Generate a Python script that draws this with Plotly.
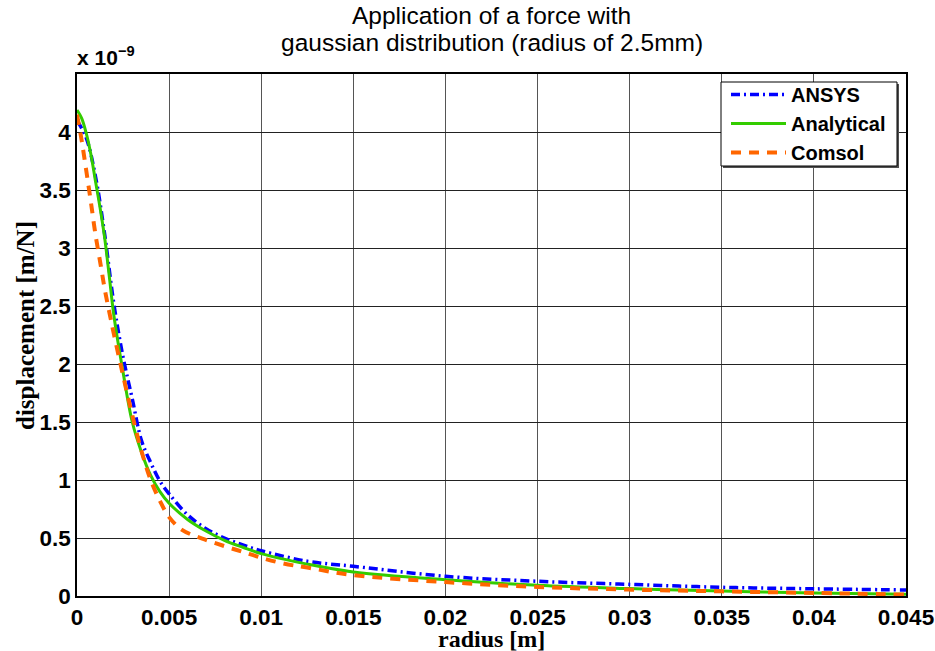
import plotly.graph_objects as go

# radius [m] and displacement [x1e-9 m/N]
r_analytical = [0, 0.00025, 0.0005, 0.00075, 0.001, 0.00125, 0.0015, 0.00175, 0.002, 0.0025, 0.003, 0.0035, 0.004,
                0.0045, 0.005, 0.006, 0.007, 0.008, 0.009, 0.01, 0.0125, 0.015, 0.02, 0.025, 0.03, 0.035, 0.04, 0.045]
d_analytical = [4.19, 4.12, 3.99, 3.81, 3.58, 3.35, 3.09, 2.76, 2.42, 1.93, 1.50, 1.24, 1.04,
                0.90, 0.80, 0.66, 0.56, 0.48, 0.42, 0.365, 0.275, 0.207, 0.14, 0.092, 0.064, 0.043, 0.026, 0.015]

r_ansys = [0, 0.0005, 0.001, 0.0015, 0.002, 0.0025, 0.003, 0.0035, 0.004, 0.0045, 0.005, 0.006, 0.007,
           0.008, 0.009, 0.01, 0.0125, 0.015, 0.02, 0.025, 0.03, 0.035, 0.04, 0.045]
d_ansys = [4.10, 3.95, 3.62, 3.12, 2.52, 2.06, 1.70, 1.34, 1.15, 0.99, 0.88, 0.70, 0.58,
           0.50, 0.44, 0.39, 0.30, 0.256, 0.17, 0.127, 0.10, 0.075, 0.062, 0.052]

r_comsol = [0, 0.00025, 0.0005, 0.00075, 0.001, 0.0013, 0.0015, 0.00175, 0.002, 0.0025, 0.003, 0.0035, 0.004,
            0.0045, 0.005, 0.0057, 0.0068, 0.008, 0.009, 0.01, 0.0112, 0.0125, 0.015, 0.02, 0.025, 0.03,
            0.035, 0.04, 0.045]
d_comsol = [4.15, 3.93, 3.67, 3.40, 3.12, 2.84, 2.65, 2.45, 2.26, 1.90, 1.56, 1.25, 1.00,
            0.82, 0.68, 0.57, 0.495, 0.43, 0.38, 0.33, 0.28, 0.245, 0.18, 0.12, 0.078, 0.055,
            0.04, 0.026, 0.012]

x_ticks = [0, 0.005, 0.01, 0.015, 0.02, 0.025, 0.03, 0.035, 0.04, 0.045]
x_tick_labels = ["0", "0.005", "0.01", "0.015", "0.02", "0.025", "0.03", "0.035", "0.04", "0.045"]
y_ticks = [0, 0.5, 1, 1.5, 2, 2.5, 3, 3.5, 4]
y_tick_labels = ["0", "0.5", "1", "1.5", "2", "2.5", "3", "3.5", "4"]

title_lines = ["Application of a force with", "gaussian distribution (radius of 2.5mm)"]
x_title = "radius [m]"
y_title = "displacement [m/N]"

W, H = 935, 651
PLOT_L, PLOT_R, PLOT_T, PLOT_B = 77, 906, 74, 596
L, R, T, B = PLOT_L, W - PLOT_R, PLOT_T, H - PLOT_B
PH = PLOT_B - PLOT_T
PW = PLOT_R - PLOT_L


def py(pix):
    """window pixel row -> paper y"""
    return (PLOT_B - pix) / PH


def px(pix):
    """window pixel column -> paper x"""
    return (pix - PLOT_L) / PW


SANS = "Liberation Sans, Arial, Helvetica"
SERIF = "Liberation Serif, Times New Roman"

fig = go.Figure()
fig.add_trace(go.Scatter(x=r_ansys, y=d_ansys, mode="lines", name="ANSYS",
                         line=dict(color="#0000ff", width=3.5, dash="9px,4px,2px,4px", shape="spline")))
fig.add_trace(go.Scatter(x=r_analytical, y=d_analytical, mode="lines", name="Analytical",
                         line=dict(color="#33cc00", width=3, shape="spline")))
fig.add_trace(go.Scatter(x=r_comsol, y=d_comsol, mode="lines", name="Comsol",
                         line=dict(color="#ff6600", width=4, dash="10px,8px", shape="spline")))

tick_font = dict(family=SANS, size=22.5, color="black", weight="bold")
fig.update_layout(
    width=W, height=H,
    margin=dict(l=L, r=R, t=T, b=B, autoexpand=False),
    paper_bgcolor="white", plot_bgcolor="white",
    xaxis=dict(range=[0, 0.045], tickvals=x_ticks, ticktext=x_tick_labels, automargin=False,
               showgrid=True, gridcolor="#555555", gridwidth=1,
               showline=True, linecolor="black", linewidth=1.5, mirror=True,
               zeroline=False, tickfont=tick_font, ticks="", ticklabelstandoff=0),
    yaxis=dict(range=[0, 4.5], tickvals=y_ticks, ticktext=y_tick_labels, automargin=False,
               showgrid=True, gridcolor="#222222", gridwidth=1,
               showline=True, linecolor="black", linewidth=1.5, mirror=True,
               zeroline=False, tickfont=tick_font, ticks="", ticklabelstandoff=0),
    legend=dict(x=px(726), xanchor="left", y=py(75), yanchor="top",
                bgcolor="rgba(0,0,0,0)", borderwidth=0,
                font=dict(family=SANS, size=20, color="black", weight="bold"),
                tracegroupgap=0, itemwidth=55),
    showlegend=True,
)
# legend frame with a thin drop shadow
fig.add_shape(type="rect", xref="paper", yref="paper", layer="above",
              x0=px(723), x1=px(899), y0=py(84), y1=py(168),
              fillcolor="#505050", line=dict(width=0))
fig.add_shape(type="rect", xref="paper", yref="paper", layer="above",
              x0=px(721), x1=px(897), y0=py(82), y1=py(166),
              fillcolor="white", line=dict(color="black", width=1))

for txt, pix in zip(title_lines, [16, 43]):
    fig.add_annotation(text=txt, xref="paper", yref="paper", x=0.5, y=py(pix),
                       xanchor="center", yanchor="middle", showarrow=False,
                       font=dict(family=SANS, size=24.5, color="black"))
fig.add_annotation(text="<b>" + x_title + "</b>", xref="paper", yref="paper", x=px(491), y=py(639),
                   xanchor="center", yanchor="middle", showarrow=False,
                   font=dict(family=SERIF, size=24, color="black"))
fig.add_annotation(text="<b>" + y_title + "</b>", xref="paper", yref="paper", x=px(25), y=py(326),
                   xanchor="center", yanchor="middle", showarrow=False, textangle=-90,
                   font=dict(family=SERIF, size=25, color="black"))
fig.add_annotation(text="<b>x 10<sup>−9</sup></b>", xref="paper", yref="paper", x=0, y=1.0,
                   xanchor="left", yanchor="bottom", showarrow=False, yshift=3, xshift=-2,
                   font=dict(family=SANS, size=21, color="black"))
fig.write_html("out.html", config={"displayModeBar": False},
               post_script="document.body.style.margin='0';")
